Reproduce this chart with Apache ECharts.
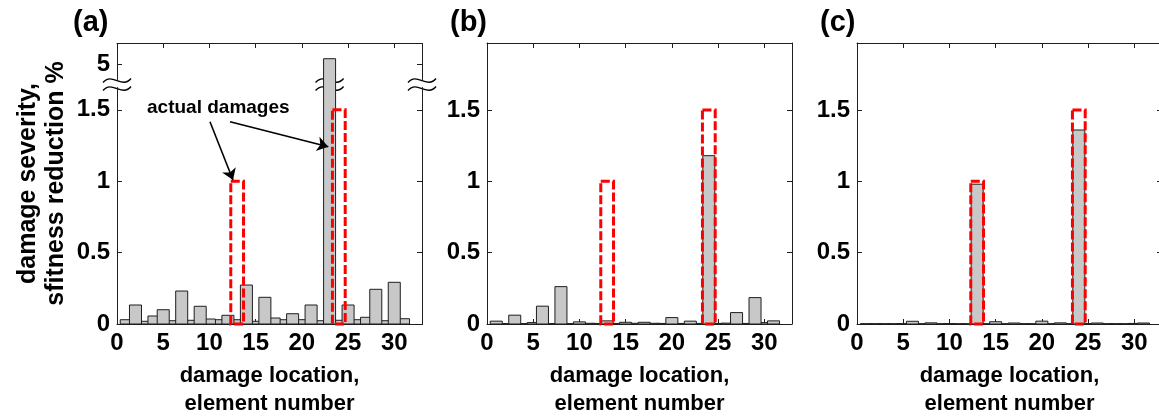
<!DOCTYPE html>
<html>
<head>
<meta charset="utf-8">
<script src="https://cdn.jsdelivr.net/npm/echarts@6/dist/echarts.min.js"></script>
<style>
  html, body { margin: 0; padding: 0; background: #fff; }
  #chart { width: 1159px; height: 419px; }
</style>
</head>
<body>
<div id="chart"></div>
<script>
// element numbers (x) and identified damage severity (%) for the three cases
const elements = [1, 2, 3, 4, 5, 6, 7, 8, 9, 10, 11, 12, 13, 14, 15, 16,
  17, 18, 19, 20, 21, 22, 23, 24, 25, 26, 27, 28, 29, 30, 31];
const severityA = [0.03, 0.133, 0.019, 0.056, 0.10, 0.023, 0.231, 0.026, 0.124, 0.035,
  0.03, 0.061, 0.03, 0.273, 0.019, 0.187, 0.042, 0.03, 0.072, 0.03, 0.133, 0.023,
  5.04, 0.026, 0.133, 0.03, 0.047, 0.243, 0.023, 0.292, 0.037];
const severityB = [0.02, 0.003, 0.062, 0.003, 0.01, 0.125, 0.003, 0.262, 0.003, 0.015,
  0.005, 0.004, 0.022, 0.004, 0.012, 0.005, 0.012, 0.005, 0.004, 0.045, 0.004, 0.02,
  0.004, 1.18, 0.004, 0.006, 0.08, 0.004, 0.185, 0.01, 0.022];
const severityC = [0.002, 0.002, 0.002, 0.002, 0.003, 0.019, 0.002, 0.008, 0.002, 0.003,
  0.002, 0.002, 0.98, 0.002, 0.016, 0.002, 0.007, 0.002, 0.002, 0.02, 0.002, 0.008,
  0.002, 1.36, 0.003, 0.007, 0.002, 0.002, 0.002, 0.004, 0.007];

// actual (simulated) damages, drawn as red dashed boxes
const actualLocations = [13, 24];
const actualSeverity = [1, 1.5];

const xTicks = [0, 5, 10, 15, 20, 25, 30];
const yTicks = [0, 0.5, 1, 1.5];
const yTicksA = [0, 0.5, 1, 1.5, 5];
const yBreakA = [1.656, 4.894];   // hidden range on panel (a)
const panelLabels = ['(a)', '(b)', '(c)'];

// annotation "actual damages" (data coords of panel a)
const noteText = 'actual damages';
const notePos = [10.96, 1.517];
const arrowStarts = [[10.06, 1.417], [12.23, 1.417]];
const arrowEnds = [[12.55, 1.008], [22.86, 1.242]];

const FONT = '"Liberation Sans", Arial, Helvetica, sans-serif';
const AXIS_COLOR = '#1e1e1e';
const X_MAX = 33;
const BAR_W = 1.3;
const BOX_W = 1.38;
const gridLefts = [117, 487, 857];
const titleLefts = [73, 450, 820];

const panels = [
  { values: severityA, yMax: 5.15, ticks: yTicksA, breaks: [{ start: yBreakA[0], end: yBreakA[1], gap: '2.85%' }] },
  { values: severityB, yMax: 1.97, ticks: yTicks },
  { values: severityC, yMax: 1.97, ticks: yTicks }
];

const textBase = { color: '#000', fontFamily: FONT, fontWeight: 'bold' };

function makeX(i, pos) {
  const main = pos === 'bottom';
  return {
    type: 'value', gridIndex: i, position: pos, min: 0, max: X_MAX,
    axisLine: { show: true, onZero: false, lineStyle: { color: AXIS_COLOR, width: 1 } },
    axisTick: { show: true, inside: true, length: 5, customValues: xTicks, lineStyle: { color: AXIS_COLOR } },
    axisLabel: Object.assign({ show: main, customValues: xTicks, margin: 7, fontSize: 24 }, textBase),
    splitLine: { show: false },
    name: main ? 'damage location,\nelement number' : '',
    nameLocation: 'middle', nameGap: 38,
    nameTextStyle: Object.assign({ fontSize: 22, lineHeight: 28 }, textBase)
  };
}

function makeY(i, pos, p) {
  const main = pos === 'left';
  const ax = {
    type: 'value', gridIndex: i, position: pos, min: 0, max: p.yMax,
    axisLine: { show: true, onZero: false, lineStyle: { color: AXIS_COLOR, width: 1 } },
    axisTick: { show: true, inside: true, length: 5, customValues: p.ticks, lineStyle: { color: AXIS_COLOR } },
    axisLabel: Object.assign({ show: main, customValues: p.ticks, margin: 7, fontSize: 24 }, textBase),
    splitLine: { show: false },
    name: (main && i === 0) ? 'damage severity,\nsfitness reduction %' : '',
    nameLocation: 'middle', nameGap: 47,
    nameTextStyle: Object.assign({ fontSize: 25, lineHeight: 28 }, textBase)
  };
  if (p.breaks) {
    ax.breaks = p.breaks;
    ax.breakArea = { show: false };
  }
  return ax;
}

function renderBar(params, api) {
  const x = api.value(0), v = api.value(1);
  const tl = api.coord([x - BAR_W / 2, v]);
  const br = api.coord([x + BAR_W / 2, 0]);
  return {
    type: 'rect',
    shape: { x: tl[0], y: tl[1], width: br[0] - tl[0], height: br[1] - tl[1] },
    style: { fill: '#c8c8c8', stroke: '#1e1e1e', lineWidth: 1 }
  };
}

function renderBox(params, api) {
  const x = api.value(0), v = api.value(1);
  const tl = api.coord([x - BOX_W / 2, v]);
  const br = api.coord([x + BOX_W / 2, 0]);
  return {
    type: 'rect',
    shape: { x: tl[0], y: tl[1], width: br[0] - tl[0], height: br[1] - tl[1] },
    style: { fill: 'none', stroke: '#ff0000', lineWidth: 3, lineDash: [9, 3] }
  };
}

const grid = [], xAxis = [], yAxis = [], series = [];
panels.forEach((p, i) => {
  grid.push({ left: gridLefts[i], top: 43, width: 305, height: 281, outerBoundsMode: 'none' });
  xAxis.push(makeX(i, 'bottom'), makeX(i, 'top'));
  yAxis.push(makeY(i, 'left', p), makeY(i, 'right', p));
  series.push({
    type: 'custom', xAxisIndex: i * 2, yAxisIndex: i * 2,
    // taller bars drawn last so they sit on top of their neighbours
    data: elements.map((e, k) => [e, p.values[k]]).sort((a, b) => a[1] - b[1]),
    encode: { x: 0, y: 1 },
    renderItem: renderBar, z: 2
  });
  series.push({
    type: 'custom', xAxisIndex: i * 2, yAxisIndex: i * 2,
    data: actualLocations.map((e, k) => [e, actualSeverity[k]]),
    encode: { x: 0, y: 1 },
    renderItem: renderBox, z: 3
  });
});

series.push({
  type: 'line', xAxisIndex: 0, yAxisIndex: 0, data: [], silent: true,
  markLine: {
    silent: true, animation: false,
    symbol: ['none', 'arrow'], symbolSize: 11,
    label: { show: false },
    lineStyle: { color: '#000', width: 1.6, type: 'solid' },
    emphasis: { disabled: true },
    data: arrowStarts.map((s, k) => [{ coord: s }, { coord: arrowEnds[k] }])
  }
});

const chart = echarts.init(document.getElementById('chart'));
chart.setOption({
  backgroundColor: '#fff',
  animation: false,
  title: panelLabels.map((t, i) => ({
    text: t, left: titleLefts[i], top: 8, padding: 0,
    textStyle: Object.assign({ fontSize: 29 }, textBase)
  })),
  grid, xAxis, yAxis, series
});

// axis-break marks and the annotation text
const toPx = pt => chart.convertToPixel({ xAxisIndex: 0, yAxisIndex: 0 }, pt);
const breakY = (toPx([0, yBreakA[0]])[1] + toPx([0, yBreakA[1]])[1]) / 2;
const brokenBars = elements.filter((e, k) => severityA[k] > yBreakA[1]);
const breakXs = [0].concat(brokenBars, [X_MAX]);

function breakMark(cx, cy) {
  return {
    type: 'group', x: cx, y: cy, z: 100,
    children: [
      { type: 'rect', shape: { x: -10, y: -3, width: 20, height: 8 }, style: { fill: '#fff' } },
      { type: 'bezierCurve', shape: { x1: -14, y1: -1, cpx1: -5, cpy1: -12, cpx2: 5, cpy2: 6, x2: 14, y2: -5 },
        style: { stroke: '#000', lineWidth: 1.4, fill: 'none' } },
      { type: 'bezierCurve', shape: { x1: -14, y1: 7, cpx1: -5, cpy1: -4, cpx2: 5, cpy2: 14, x2: 14, y2: 3 },
        style: { stroke: '#000', lineWidth: 1.4, fill: 'none' } }
    ]
  };
}

const notePx = toPx(notePos);
chart.setOption({
  graphic: breakXs.map(x => breakMark(toPx([x, 0])[0], breakY)).concat([{
    type: 'text', x: notePx[0], y: notePx[1], z: 100,
    style: Object.assign({ text: noteText, fontSize: 19, align: 'center', verticalAlign: 'middle', fill: '#000' },
      { fontFamily: FONT, fontWeight: 'bold' })
  }])
});
</script>
</body>
</html>
